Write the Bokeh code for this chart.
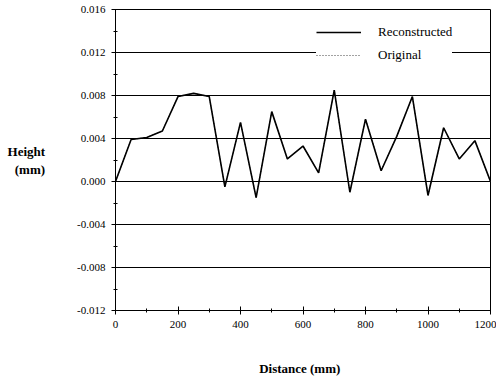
from bokeh.plotting import figure
from bokeh.models import Range1d, FixedTicker, NumeralTickFormatter, Legend, LegendItem
from bokeh.embed import file_html
from bokeh.resources import INLINE

distance = [0, 50, 100, 150, 200, 250, 300, 350, 400, 450, 500, 550, 600,
            650, 700, 750, 800, 850, 900, 950, 1000, 1050, 1100, 1150, 1200]
reconstructed = [0.0000, 0.0039, 0.0041, 0.0047, 0.0079, 0.0082, 0.0079, -0.0005,
                 0.0055, -0.0015, 0.0065, 0.0021, 0.0033, 0.0008, 0.0085, -0.0010,
                 0.0058, 0.0010, 0.0042, 0.0079, -0.0013, 0.0050, 0.0021, 0.0038, 0.0000]
original = [0.0000, 0.0039, 0.0041, 0.0047, 0.0079, 0.0082, 0.0079, -0.0005,
            0.0055, -0.0015, 0.0065, 0.0021, 0.0033, 0.0008, 0.0085, -0.0010,
            0.0058, 0.0010, 0.0042, 0.0079, -0.0013, 0.0050, 0.0021, 0.0038, 0.0000]
y_ticks = [-0.012, -0.008, -0.004, 0.0, 0.004, 0.008, 0.012, 0.016]
x_ticks = [0, 200, 400, 600, 800, 1000, 1200]

FONT = "Liberation Serif"

p = figure(width=496, height=378, output_backend="svg", toolbar_location=None,
           x_range=Range1d(0, 1200), y_range=Range1d(-0.012, 0.016),
           min_border_left=115, min_border_right=6, min_border_top=9, min_border_bottom=62)

p.background_fill_color = "white"
p.border_fill_color = "white"
p.outline_line_color = "black"
p.outline_line_width = 1

p.xgrid.visible = False
p.ygrid.ticker = FixedTicker(ticks=y_ticks)
p.ygrid.grid_line_color = "black"
p.ygrid.grid_line_width = 1
p.ygrid.grid_line_alpha = 1.0

p.yaxis.ticker = FixedTicker(ticks=y_ticks, minor_ticks=[-0.010, -0.006, -0.002, 0.002, 0.006, 0.010, 0.014])
p.xaxis.ticker = FixedTicker(ticks=x_ticks, minor_ticks=[100, 300, 500, 700, 900, 1100])
p.yaxis.formatter = NumeralTickFormatter(format="0.000")

for ax in (p.xaxis, p.yaxis):
    ax.axis_line_color = "black"
    ax.axis_line_width = 1
    ax.major_tick_in = 4
    ax.major_tick_out = 4
    ax.minor_tick_in = 2
    ax.minor_tick_out = 2
    ax.major_tick_line_color = "black"
    ax.minor_tick_line_color = "black"
    ax.major_label_text_font = FONT
    ax.major_label_text_font_size = "11px"
    ax.major_label_text_color = "black"
    ax.axis_label_text_font = FONT
    ax.axis_label_text_font_style = "bold"
    ax.axis_label_text_font_size = "13px"
    ax.axis_label_text_color = "black"

p.xaxis.axis_label = "Distance   (mm)"
p.xaxis.axis_label_standoff = 30
p.xaxis.major_label_standoff = 6

p.yaxis.axis_label = "Height\n(mm)"
p.yaxis.axis_label_orientation = "horizontal"
p.yaxis.axis_label_standoff = 29
p.yaxis.major_label_standoff = 6

r_org = p.line(distance, original, line_color="#444444", line_width=1, line_dash="1 2")
r_rec = p.line(distance, reconstructed, line_color="black", line_width=1.6)

legend = Legend(items=[LegendItem(label="Reconstructed", renderers=[r_rec]),
                       LegendItem(label="Original", renderers=[r_org])],
                location=(201, 245))
legend.background_fill_color = "white"
legend.background_fill_alpha = 1.0
legend.border_line_color = None
legend.label_text_font = FONT
legend.label_text_font_size = "13px"
legend.label_text_color = "black"
legend.glyph_width = 45
legend.label_standoff = 17
legend.spacing = 3
legend.margin = 0
legend.padding = 5
p.add_layout(legend)

open("out.html", "w").write(file_html(p, INLINE))
